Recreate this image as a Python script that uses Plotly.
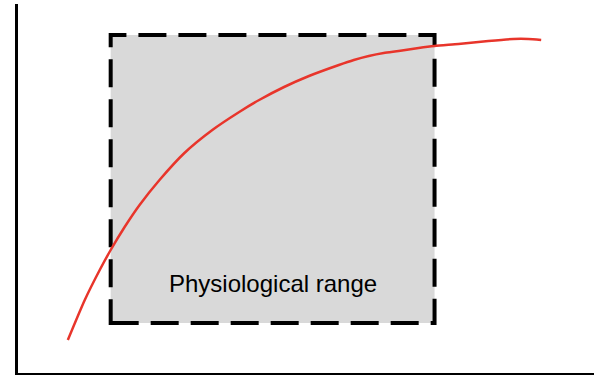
import plotly.graph_objects as go

# Curve values (arbitrary units)
curve_x = [52, 69, 84, 95, 109, 124, 144, 169, 197, 224, 244, 269, 294, 324, 339, 354, 369, 384, 404, 420, 444, 474, 499, 514, 527]
curve_y = [33, 73, 103, 123, 146, 168, 193, 220, 243, 261, 273, 286, 297, 308, 313, 317, 320, 322, 325, 327, 329, 332, 334, 334, 333]

# Physiological range box
range_x = [95, 420]
range_y = [50, 338]
range_label = "Physiological range"

fig = go.Figure()

fig.add_shape(type="rect", x0=range_x[0], x1=range_x[1], y0=range_y[0], y1=range_y[1],
              xref="x", yref="y", fillcolor="#d9d9d9",
              line=dict(color="black", width=4, dash="28px,12px"), layer="below")

fig.add_trace(go.Scatter(x=curve_x, y=curve_y, mode="lines",
                         line=dict(color="#e8352b", width=2.5, shape="spline", smoothing=0.6),
                         hoverinfo="skip", showlegend=False))

fig.add_annotation(x=(range_x[0] + range_x[1]) / 2, y=90, text=range_label, showarrow=False,
                   font=dict(family="Liberation Sans, Arial, sans-serif", size=24, color="black"))

fig.update_layout(
    width=594, height=375,
    margin=dict(l=18, r=0, t=4, b=2),
    paper_bgcolor="white", plot_bgcolor="white",
    showlegend=False,
    xaxis=dict(range=[2, 580], showgrid=False, zeroline=False, showticklabels=False, ticks="",
               showline=True, linecolor="black", linewidth=3, fixedrange=True),
    yaxis=dict(range=[0, 369], showgrid=False, zeroline=False, showticklabels=False, ticks="",
               showline=True, linecolor="black", linewidth=3, fixedrange=True),
)

fig.write_html("out.html", config={"displayModeBar": False},
               post_script="document.body.style.margin='0';document.body.style.overflow='hidden';")
